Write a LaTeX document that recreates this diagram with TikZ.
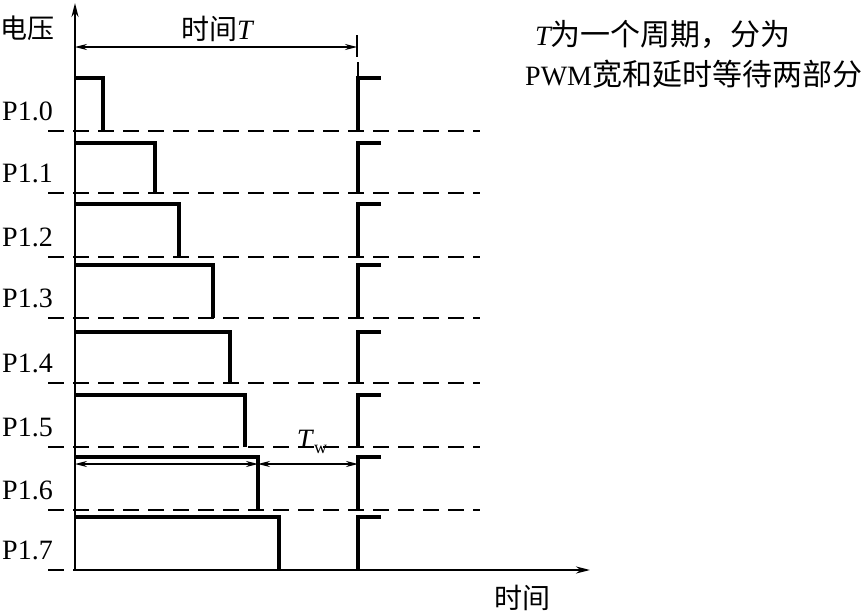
\documentclass[tikz,border=0pt]{standalone}
\usepackage{fontspec}
\setmainfont{Liberation Serif}
\newfontfamily\cjk{Noto Sans CJK SC}
\usetikzlibrary{arrows.meta}
\begin{document}
\begin{tikzpicture}[x=1pt,y=-1pt,
  pulse/.style={line width=3.6pt,line join=miter},
  axisline/.style={line width=1.9pt},
  dashline/.style={line width=1.3pt,dash pattern=on 16pt off 9pt},
  dimline/.style={line width=1.1pt,{Stealth[length=12pt,width=6pt]}-{Stealth[length=12pt,width=6pt]}},
  lab/.style={font=\fontsize{28}{30}\selectfont,inner sep=0pt},
  cjklab/.style={font=\fontsize{27}{30}\selectfont\cjk,inner sep=0pt}]
\useasboundingbox (0,0) rectangle (863,613);
% dashed level lines
\foreach \b in {131,193,257,318,383,447,510}{
  \draw[dashline] (48,\b) -- (480,\b);
}
\draw[dashline] (48,570) -- (75,570);
% axes
\coordinate (O) at (75,570);
\coordinate (Ytop) at (75,3);
\coordinate (Xend) at (590,570);
\draw[axisline,-{Stealth[length=14pt,width=7pt]}] (O) -- (Ytop);
\draw[axisline,-{Stealth[length=14pt,width=7pt]}] (O) -- (Xend);
% pulses
\foreach \n/\b/\t/\f in {0/131/78/103,1/193/143/155,2/257/204/179,3/318/265/213,4/383/332/230,5/447/395/245,6/510/457/258,7/570/517/279}{
  \draw[pulse] (75,\t) -- (\f,\t) -- (\f,\b);
  \draw[pulse] (358,\b) -- (358,\t) -- (381,\t);
  \node[lab,anchor=base west] (p\n) at (2,\b-11) {P1.\n};
}
% period T dimension
\coordinate (Ta) at (75,47);
\coordinate (Tb) at (357,47);
\coordinate (Tt1) at (357,35);
\coordinate (Tt2) at (357,57);
\coordinate (Te1) at (358,62);
\coordinate (Te2) at (358,78);
\draw[line width=1.1pt] (Tt1) -- (Tt2);
\draw[line width=1.1pt] (Te1) -- (Te2);
\draw[dimline] (Ta) -- (Tb);
\node[inner sep=0pt] (Tlab) at (217,29) {{\fontsize{28}{30}\selectfont\cjk 时间}{\fontsize{28}{30}\selectfont\itshape T}};
% Tw dimension
\coordinate (Wa) at (75,464);
\coordinate (Wb) at (258,464);
\coordinate (Wc) at (358,464);
\draw[dimline] (Wa) -- (Wb);
\draw[dimline] (Wb) -- (Wc);
\node[lab] (Tw) at (312,442) {\textit{T}\raisebox{-5pt}{\fontsize{18}{20}\selectfont w}};
% axis labels
\node[cjklab] (volt) at (28,28) {电压};
\node[cjklab,font=\fontsize{28}{30}\selectfont\cjk] (time) at (522,598) {时间};
% note
\node[inner sep=0pt,anchor=west] (note1) at (535,34) {{\fontsize{28}{30}\selectfont\itshape T}{\fontsize{30}{30}\selectfont\cjk 为一个周期，分为}};
\node[inner sep=0pt,anchor=west] (note2) at (525,74) {{\fontsize{28}{30}\selectfont PWM}{\fontsize{30}{30}\selectfont\cjk 宽和延时等待两部分}};
\end{tikzpicture}
\end{document}
